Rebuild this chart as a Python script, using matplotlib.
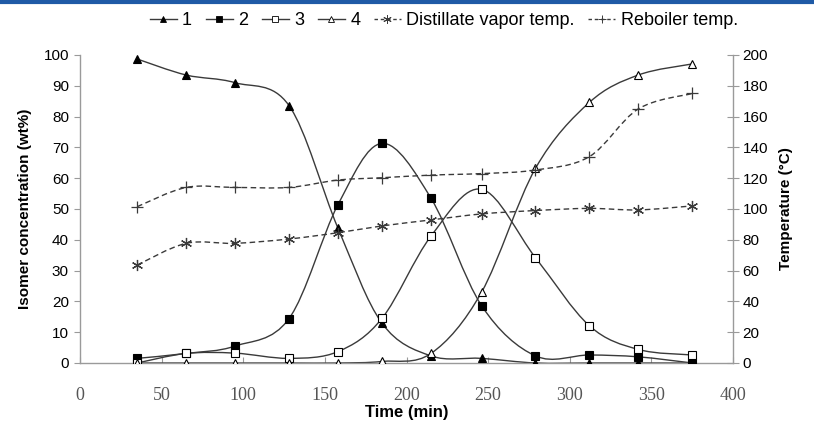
import matplotlib
matplotlib.use("Agg")
import matplotlib.pyplot as plt
from matplotlib.path import Path
from matplotlib.patches import PathPatch
from matplotlib.lines import Line2D
import numpy as np

# data
time_min = [35, 65, 95, 128, 158, 185, 215, 246, 279, 312, 342, 375]
isomer_1 = [98.7, 93.5, 91.0, 83.6, 43.8, 12.9, 2.3, 1.5, 0.0, 0.0, 0.0, 0.0]
isomer_2 = [1.5, 3.1, 5.5, 14.4, 51.4, 71.3, 53.5, 18.6, 2.3, 2.6, 2.0, 0.0]
isomer_3 = [0.0, 3.1, 3.2, 1.5, 3.7, 14.5, 41.2, 56.4, 34.2, 12.1, 4.4, 2.6]
isomer_4 = [0.0, 0.0, 0.0, 0.0, 0.0, 0.5, 3.1, 23.0, 63.2, 84.6, 93.5, 97.1]
vapor_temp = [63.6, 77.7, 77.7, 80.5, 84.6, 89.0, 92.9, 96.8, 99.0, 100.4, 99.4, 102.0]
reboiler_temp = [101.5, 114.0, 114.0, 114.0, 118.8, 120.3, 122.0, 123.0, 125.3, 134.0, 165.0, 175.0]

plt.rcParams['font.family'] = ['Liberation Sans', 'DejaVu Sans']

LINE = '#3a3a3a'
AXIS = '#9a9a9a'


def smooth_path(x, y, t=1/6):
    # Excel-like smoothed line: cubic bezier through the points
    x = np.asarray(x, float)
    y = np.asarray(y, float)
    n = len(x)
    verts = [(x[0], y[0])]
    codes = [Path.MOVETO]
    for i in range(n - 1):
        i0 = max(i - 1, 0)
        i3 = min(i + 2, n - 1)
        c1 = (x[i] + (x[i + 1] - x[i0]) * t, y[i] + (y[i + 1] - y[i0]) * t)
        c2 = (x[i + 1] - (x[i3] - x[i]) * t, y[i + 1] - (y[i3] - y[i]) * t)
        verts += [c1, c2, (x[i + 1], y[i + 1])]
        codes += [Path.CURVE4] * 3
    return Path(verts, codes)


fig = plt.figure(figsize=(8.14, 4.25), dpi=100)
ax = fig.add_axes([0.0983, 0.1459, 0.8022, 0.7247])
ax2 = ax.twinx()

# blue rule at the top of the figure
fig.add_artist(Line2D([0, 1], [0.9955, 0.9955], color='#1f5aa6', lw=3,
                      transform=fig.transFigure))

series = [
    (isomer_1, dict(marker='^', mfc='black', mec='black', ms=6), '1'),
    (isomer_2, dict(marker='s', mfc='black', mec='black', ms=5.5), '2'),
    (isomer_3, dict(marker='s', mfc='white', mec='black', ms=6), '3'),
    (isomer_4, dict(marker='^', mfc='white', mec='black', ms=6), '4'),
]
handles = []
for vals, mk, lab in series:
    ax.add_patch(PathPatch(smooth_path(time_min, vals), fill=False,
                           ec=LINE, lw=1.0, zorder=2))
    ax.plot(time_min, vals, ls='none', mew=0.8, zorder=3, **mk)
    handles.append(Line2D([], [], color=LINE, lw=1.0, ls='-', mew=0.6,
                          **dict(mk, ms=4)))

temps = [
    (vapor_temp, dict(marker=(6, 2, 0), ms=8), 'Distillate vapor temp.'),
    (reboiler_temp, dict(marker='+', ms=8), 'Reboiler temp.'),
]
labels = ['1', '2', '3', '4']
for vals, mk, lab in temps:
    ax2.add_patch(PathPatch(smooth_path(time_min, vals), fill=False,
                            ec=LINE, lw=1.0, ls=(0, (4, 2.5)), zorder=2))
    ax2.plot(time_min, vals, ls='none', color=LINE, mew=0.9, zorder=3, **mk)
    handles.append(Line2D([], [], color=LINE, lw=1.0, ls=(0, (2.5, 2)),
                          mew=0.7, **dict(mk, ms=6)))
    labels.append(lab)

ax.set_xlim(0, 400)
ax.set_ylim(0, 100)
ax2.set_ylim(0, 200)
ax.set_xticks(range(0, 401, 50))
ax.set_yticks(range(0, 101, 10))
ax2.set_yticks(range(0, 201, 20))

for a in (ax, ax2):
    a.spines['top'].set_visible(False)
    for s in a.spines.values():
        s.set_color(AXIS)
        s.set_linewidth(1.0)
ax.spines['right'].set_visible(False)
ax2.spines['left'].set_visible(False)
ax2.spines['bottom'].set_visible(False)

ax.tick_params(axis='y', direction='out', length=4, color=AXIS,
               labelsize=11, pad=4)
ax2.tick_params(axis='y', direction='inout', length=8, color=AXIS,
                labelsize=11, pad=3)
ax.tick_params(axis='x', direction='in', length=4, color=AXIS,
               labelsize=13, pad=17, labelcolor='#555555')
for lbl in ax.get_xticklabels():
    lbl.set_family(['Liberation Serif', 'DejaVu Serif'])

ax.set_xlabel('Time (min)', fontsize=12, fontweight='bold', labelpad=1)
ax.set_ylabel('Isomer concentration (wt%)', fontsize=11, fontweight='bold',
              labelpad=8)
ax2.set_ylabel('Temperature (°C)', fontsize=11, fontweight='bold',
               labelpad=8)

fig.legend(handles, labels, loc='upper center', bbox_to_anchor=(0.545, 1.01),
           ncol=6, frameon=False, fontsize=13, handlelength=1.5,
           handletextpad=0.3, columnspacing=0.75, borderaxespad=0.5)

fig.savefig('out.png', dpi=100)
